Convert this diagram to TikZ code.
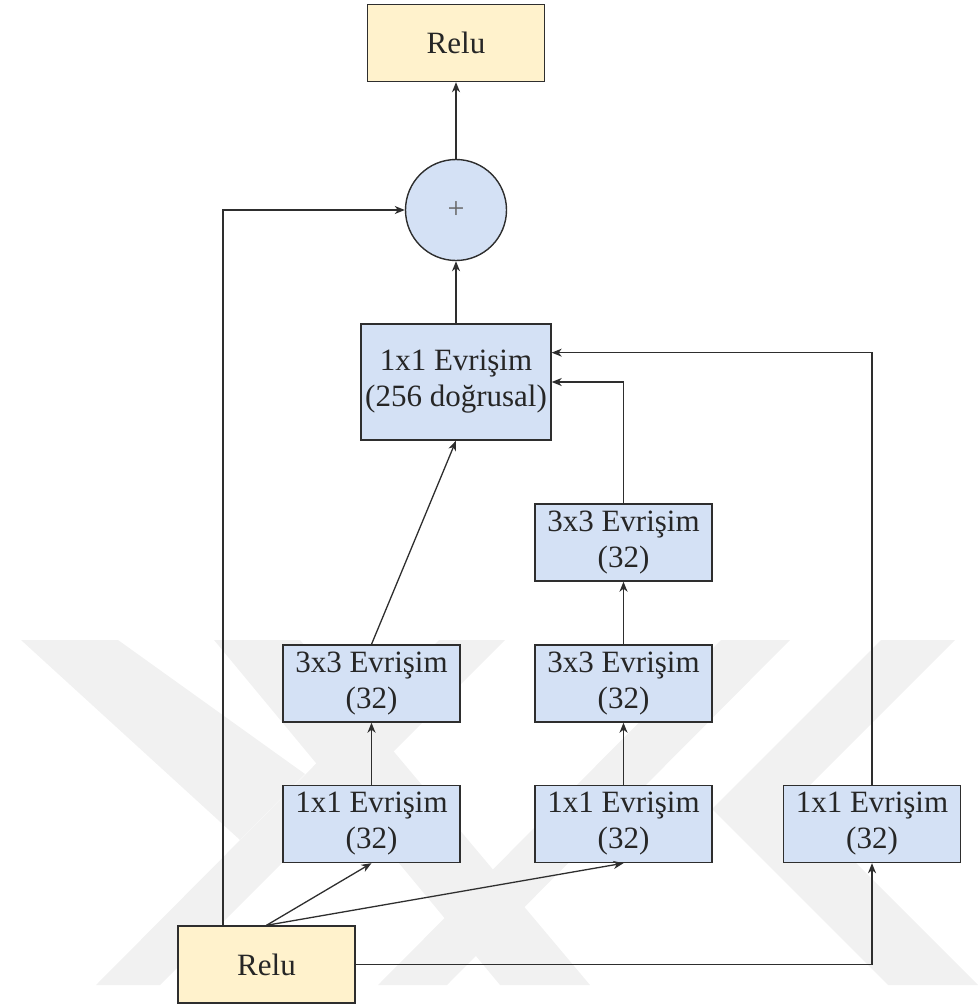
\documentclass[tikz,border=0pt]{standalone}
\usepackage{fontspec}
\setmainfont{Liberation Serif}
\usetikzlibrary{arrows.meta,calc}
\definecolor{boxblue}{HTML}{D4E1F5}
\definecolor{boxyellow}{HTML}{FFF2CC}
\definecolor{edgegray}{HTML}{2E2E2E}
\definecolor{markgray}{HTML}{F1F1F1}
\tikzset{
  blk/.style={draw=edgegray, line width=1.4pt, fill=boxblue,
    minimum width=177pt, minimum height=77pt, inner sep=0pt,
    align=center, font=\fontsize{31}{36}\selectfont, text=black!85},
  relubox/.style={blk, fill=boxyellow},
  sumnode/.style={circle, draw=edgegray, line width=1.4pt, fill=boxblue,
    minimum size=101pt, inner sep=0pt, font=\fontsize{30}{36}\selectfont, text=black!60},
  arr/.style={draw=edgegray, line width=1.3pt,
    -{Stealth[length=10pt,width=8pt,inset=3pt]}},
  wmark/.style={fill=markgray, draw=none}
}
\begin{document}
\begin{tikzpicture}[x=1pt,y=-1pt]
\useasboundingbox (0,0) rectangle (978,1006);

% faint background emblem
\fill[wmark] (21,640) -- (118,640) -- (305,774) -- (240,840) -- cycle;
\fill[wmark] (96,985) -- (160,985) -- (505,640) -- (439,640) -- cycle;
\fill[wmark] (214,640) -- (300,640) -- (590,985) -- (500,985) -- cycle;
\fill[wmark] (721,640) -- (790,640) -- (447,985) -- (378,985) -- cycle;
\fill[wmark] (881,640) -- (955,640) -- (794,801) -- (978,985) -- (888,985) -- (712,809) -- cycle;

% blocks
\node[relubox] (relutop) at (456,43) {Relu};
\node[sumnode] (plus) at (456,210) {+};
\node[blk, minimum width=190pt, minimum height=116pt] (conv256) at (456,382) {1x1 Evrişim\\(256 doğrusal)};

\node[blk] (bthree) at (623.5,542.5) {3x3 Evrişim\\(32)};
\node[blk] (athree) at (371.5,683.5) {3x3 Evrişim\\(32)};
\node[blk] (btwo)   at (623.5,683.5) {3x3 Evrişim\\(32)};
\node[blk] (aone)   at (371.5,824) {1x1 Evrişim\\(32)};
\node[blk] (bone)   at (623.5,824) {1x1 Evrişim\\(32)};
\node[blk] (cone)   at (872,824) {1x1 Evrişim\\(32)};
\node[relubox] (relubot) at (266.5,964.5) {Relu};

\coordinate (bypass) at (223,0);

% connectors
\draw[arr] (plus.north) -- (relutop.south);
\draw[arr] (conv256.north) -- (plus.south);
\draw[arr] (relubot.north -| bypass) |- (plus.west);

\draw[arr] (athree.north) -- (conv256.south);
\draw[arr] (aone.north) -- (athree.south);

\draw[arr] (bone.north) -- (btwo.south);
\draw[arr] (btwo.north) -- (bthree.south);
\draw[arr] (bthree.north) |- (conv256.east);

\draw[arr] (cone.north) |- ($(conv256.north east)!0.25!(conv256.south east)$);

\draw[arr] (relubot.north) -- (aone.south);
\draw[arr] (relubot.north) -- (bone.south);
\draw[arr] (relubot.east) -| (cone.south);
\end{tikzpicture}
\end{document}
